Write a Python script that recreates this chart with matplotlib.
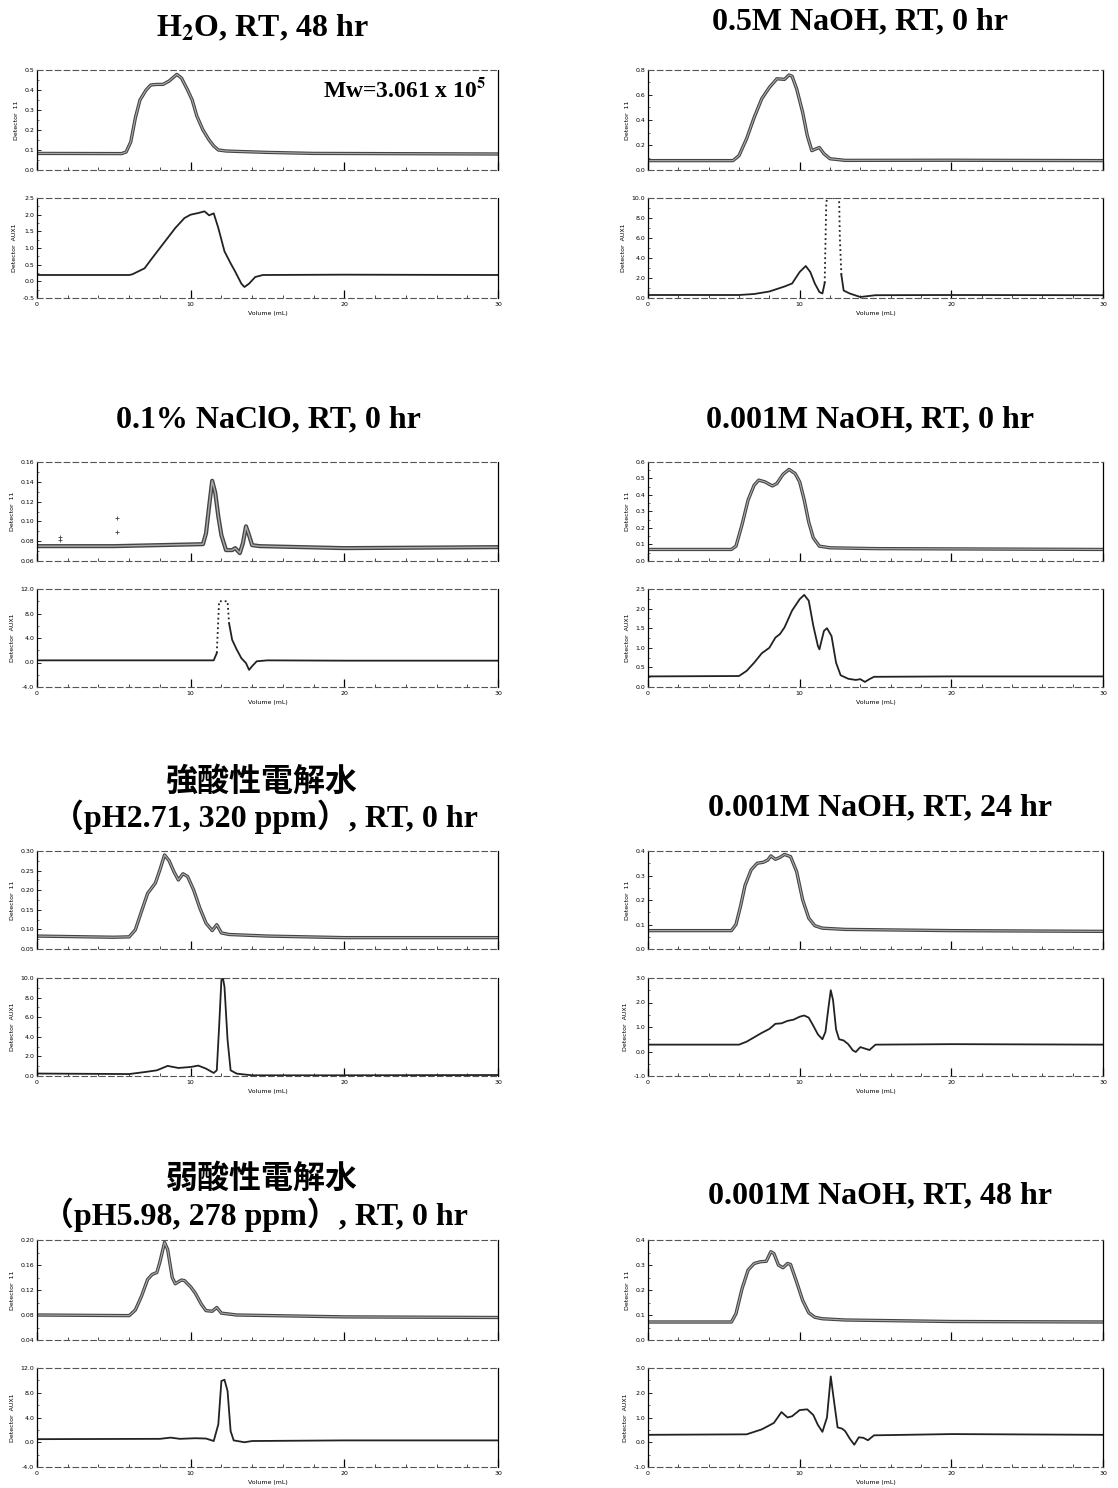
import numpy as np
import matplotlib.pyplot as plt
from matplotlib.ticker import MultipleLocator, FormatStrFormatter

plt.rcParams['mathtext.fontset'] = 'stix'

# ---- data: (volume mL, signal) ----
# H2O, RT, 48 hr
h2o_ri_x = [0, 5.5, 5.8, 6.1, 6.4, 6.7, 7.1, 7.4, 7.8, 8.2, 8.6, 9.1, 9.4, 9.8, 10.1, 10.4, 10.8, 11.2, 11.5, 11.8, 12.3, 13, 15, 18, 22, 26, 30]
h2o_ri_y = [0.083, 0.082, 0.09, 0.14, 0.26, 0.35, 0.40, 0.425, 0.428, 0.428, 0.445, 0.478, 0.46, 0.40, 0.35, 0.27, 0.20, 0.15, 0.12, 0.10, 0.095, 0.093, 0.088, 0.083, 0.082, 0.081, 0.08]
h2o_aux_x = [0, 6.0, 6.2, 6.6, 7.0, 7.5, 8.0, 8.5, 9.0, 9.6, 10.0, 10.5, 10.9, 11.2, 11.5, 11.8, 12.2, 12.6, 12.9, 13.3, 13.5, 13.8, 14.2, 14.7, 20, 30]
h2o_aux_y = [0.19, 0.19, 0.21, 0.3, 0.39, 0.7, 1.0, 1.3, 1.6, 1.9, 2.0, 2.05, 2.1, 1.98, 2.04, 1.6, 0.9, 0.54, 0.29, -0.07, -0.17, -0.07, 0.13, 0.19, 0.2, 0.19]

# 0.5M NaOH, RT, 0 hr
n05_ri_x = [0, 5.6, 6.0, 6.5, 7.0, 7.5, 8.0, 8.5, 9.0, 9.3, 9.5, 9.8, 10.2, 10.5, 10.8, 11.1, 11.3, 11.6, 12.0, 13, 20, 30]
n05_ri_y = [0.075, 0.075, 0.115, 0.25, 0.42, 0.57, 0.66, 0.73, 0.725, 0.76, 0.75, 0.65, 0.46, 0.276, 0.155, 0.17, 0.18, 0.13, 0.09, 0.077, 0.078, 0.075]
n05_aux_x = [0, 6.0, 7.0, 8.0, 9.0, 9.5, 10.0, 10.4, 10.7, 11.0, 11.3, 11.5, 11.65]
n05_aux_y = [0.3, 0.3, 0.4, 0.65, 1.15, 1.45, 2.6, 3.2, 2.6, 1.45, 0.6, 0.45, 1.5]
n05_spike_x = [11.65, 11.75, 11.8, 12.6, 12.65, 12.75]
n05_spike_y = [1.5, 9.3, 10.0, 10.0, 6.0, 2.3]
n05_tail_x = [12.75, 12.9, 13.3, 14.0, 15.0, 20, 30]
n05_tail_y = [2.3, 0.75, 0.45, 0.1, 0.28, 0.3, 0.28]

# 0.1% NaClO, RT, 0 hr
clo_ri_x = [0, 5, 10.8, 11.0, 11.2, 11.4, 11.6, 11.8, 12.0, 12.3, 12.7, 12.9, 13.2, 13.4, 13.6, 13.8, 14.0, 14.5, 20, 30]
clo_ri_y = [0.075, 0.075, 0.077, 0.088, 0.115, 0.141, 0.129, 0.105, 0.086, 0.071, 0.071, 0.073, 0.068, 0.078, 0.095, 0.086, 0.076, 0.075, 0.073, 0.074]
clo_out_x = [1.5, 1.5, 5.2, 5.2]
clo_out_y = [0.084, 0.081, 0.103, 0.089]
clo_aux_x = [0, 11.5, 11.7]
clo_aux_y = [0.35, 0.35, 1.55]
clo_spike_x = [11.7, 11.85, 12.4, 12.5]
clo_spike_y = [1.55, 10.0, 10.0, 6.4]
clo_tail_x = [12.5, 12.7, 13.0, 13.3, 13.6, 13.8, 14.0, 14.3, 15, 20, 30]
clo_tail_y = [6.4, 3.7, 2.1, 0.7, -0.1, -1.2, -0.6, 0.2, 0.35, 0.3, 0.3]

# 0.001M NaOH, RT, 0 hr
n0_ri_x = [0, 5.5, 5.8, 6.2, 6.6, 7.0, 7.3, 7.7, 8.2, 8.5, 8.9, 9.3, 9.7, 10.0, 10.3, 10.6, 10.9, 11.3, 12, 15, 30]
n0_ri_y = [0.07, 0.07, 0.09, 0.22, 0.37, 0.46, 0.49, 0.48, 0.455, 0.47, 0.525, 0.555, 0.53, 0.48, 0.37, 0.235, 0.14, 0.09, 0.08, 0.075, 0.07]
n0_aux_x = [0, 6.0, 6.5, 7.0, 7.5, 8.0, 8.4, 8.7, 9.0, 9.5, 10.0, 10.3, 10.6, 10.9, 11.2, 11.3, 11.6, 11.8, 12.1, 12.4, 12.7, 13.2, 13.7, 14.0, 14.3, 14.6, 14.9, 20, 30]
n0_aux_y = [0.27, 0.28, 0.41, 0.62, 0.86, 1.0, 1.26, 1.35, 1.52, 1.95, 2.24, 2.35, 2.2, 1.56, 1.05, 0.96, 1.43, 1.5, 1.3, 0.62, 0.3, 0.21, 0.18, 0.2, 0.13, 0.2, 0.26, 0.27, 0.27]

# strong acid electrolysed water
sa_ri_x = [0, 5.0, 6.0, 6.4, 6.8, 7.2, 7.7, 8.0, 8.3, 8.6, 8.9, 9.2, 9.5, 9.8, 10.2, 10.6, 11.0, 11.4, 11.7, 12.0, 12.5, 15, 20, 30]
sa_ri_y = [0.083, 0.08, 0.081, 0.099, 0.146, 0.192, 0.218, 0.252, 0.29, 0.275, 0.248, 0.226, 0.242, 0.235, 0.2, 0.154, 0.116, 0.097, 0.112, 0.091, 0.087, 0.083, 0.079, 0.079]
sa_aux_x = [0, 6.0, 7.0, 7.8, 8.5, 9.2, 10.0, 10.5, 11.0, 11.5, 11.7, 11.85, 12.0, 12.1, 12.2, 12.4, 12.6, 13.0, 14.0, 20, 30]
sa_aux_y = [0.25, 0.2, 0.4, 0.58, 1.03, 0.82, 0.92, 1.06, 0.75, 0.31, 0.58, 5.0, 9.8, 10.0, 9.1, 3.7, 0.58, 0.24, 0.07, 0.07, 0.1]

# 0.001M NaOH, RT, 24 hr
n24_ri_x = [0, 5.5, 5.8, 6.1, 6.4, 6.8, 7.2, 7.6, 7.9, 8.1, 8.4, 8.7, 9.0, 9.4, 9.8, 10.2, 10.6, 11.0, 11.5, 13, 20, 30]
n24_ri_y = [0.075, 0.075, 0.1, 0.174, 0.26, 0.323, 0.35, 0.354, 0.363, 0.38, 0.366, 0.374, 0.386, 0.377, 0.316, 0.2, 0.126, 0.095, 0.085, 0.08, 0.075, 0.072]
n24_aux_x = [0, 6.0, 6.5, 7.0, 7.5, 8.0, 8.4, 8.8, 9.2, 9.6, 10.0, 10.3, 10.6, 10.9, 11.2, 11.5, 11.7, 11.9, 12.05, 12.2, 12.4, 12.6, 12.9, 13.2, 13.5, 13.7, 14.0, 14.3, 14.6, 15.0, 20, 30]
n24_aux_y = [0.28, 0.28, 0.4, 0.58, 0.76, 0.92, 1.13, 1.15, 1.25, 1.3, 1.42, 1.47, 1.38, 1.05, 0.7, 0.5, 0.8, 1.8, 2.5, 2.1, 0.9, 0.5, 0.45, 0.3, 0.05, -0.02, 0.18, 0.12, 0.06, 0.28, 0.3, 0.28]

# weak acid electrolysed water
wa_ri_x = [0, 6.0, 6.4, 6.8, 7.2, 7.5, 7.8, 8.0, 8.3, 8.5, 8.8, 9.0, 9.4, 9.6, 10.0, 10.3, 10.7, 11.0, 11.4, 11.7, 12.0, 13, 20, 30]
wa_ri_y = [0.08, 0.079, 0.088, 0.11, 0.137, 0.145, 0.148, 0.165, 0.196, 0.185, 0.14, 0.13, 0.136, 0.135, 0.125, 0.115, 0.097, 0.087, 0.086, 0.092, 0.083, 0.08, 0.077, 0.076]
wa_aux_x = [0, 8.0, 8.7, 9.3, 10.3, 11.0, 11.5, 11.8, 12.0, 12.2, 12.4, 12.6, 12.8, 13.5, 14.0, 20, 30]
wa_aux_y = [0.5, 0.55, 0.75, 0.55, 0.65, 0.6, 0.2, 2.9, 9.9, 10.1, 8.3, 1.8, 0.3, 0.0, 0.2, 0.3, 0.3]

# 0.001M NaOH, RT, 48 hr
n48_ri_x = [0, 5.5, 5.8, 6.2, 6.6, 7.0, 7.4, 7.8, 8.1, 8.3, 8.6, 8.9, 9.2, 9.4, 9.8, 10.2, 10.6, 11.0, 11.5, 13, 20, 30]
n48_ri_y = [0.072, 0.072, 0.105, 0.205, 0.28, 0.306, 0.313, 0.315, 0.353, 0.346, 0.3, 0.289, 0.306, 0.302, 0.232, 0.158, 0.109, 0.091, 0.085, 0.08, 0.074, 0.072]
n48_aux_x = [0, 6.5, 7.5, 8.3, 8.8, 9.2, 9.5, 10.0, 10.5, 10.9, 11.2, 11.5, 11.8, 12.05, 12.3, 12.5, 12.8, 13.0, 13.3, 13.6, 13.9, 14.2, 14.5, 14.9, 20, 30]
n48_aux_y = [0.3, 0.32, 0.52, 0.78, 1.22, 1.0, 1.05, 1.3, 1.33, 1.1, 0.7, 0.42, 1.0, 2.66, 1.5, 0.6, 0.55, 0.45, 0.15, -0.1, 0.2, 0.18, 0.08, 0.28, 0.33, 0.3]

fig = plt.figure(figsize=(11.18, 14.88), dpi=100)
W, H = 1118.0, 1488.0

def make_ax(left, right, top, bottom, ylim, ystep, fmt, ylab, xlabels):
    ax = fig.add_axes([left / W, 1 - bottom / H, (right - left) / W, (bottom - top) / H])
    ax.set_xlim(0, 30)
    ax.set_ylim(*ylim)
    ax.xaxis.set_major_locator(MultipleLocator(10))
    ax.xaxis.set_minor_locator(MultipleLocator(2))
    ax.yaxis.set_major_locator(MultipleLocator(ystep))
    ax.yaxis.set_minor_locator(MultipleLocator(ystep / 2))
    ax.yaxis.set_major_formatter(FormatStrFormatter(fmt))
    ax.tick_params(axis='x', which='major', direction='in', length=6, width=0.9, labelsize=4.5, pad=3)
    ax.tick_params(axis='x', which='minor', direction='in', length=2, width=0.5)
    ax.tick_params(axis='y', which='major', direction='in', length=3, width=0.6, labelsize=4.5, pad=2)
    ax.tick_params(axis='y', which='minor', direction='in', length=1.5, width=0.4)
    if not xlabels:
        ax.set_xticklabels([])
    else:
        ax.set_xlabel('Volume (mL)', fontsize=4.5, labelpad=3)
    for s in ['top', 'bottom']:
        ax.spines[s].set_linestyle((0, (5, 3)))
        ax.spines[s].set_color('#555555')
        ax.spines[s].set_linewidth(0.8)
    for s in ['left', 'right']:
        ax.spines[s].set_color('black')
        ax.spines[s].set_linewidth(0.9)
    ax.set_ylabel(ylab, fontsize=4.5, labelpad=4)
    return ax

def ri(ax, x, y, lw=2.4):
    ax.plot(x, y, color='#444444', lw=lw, solid_joinstyle='round')
    ax.plot(x, y, color='#aaaaaa', lw=lw * 0.35)

def aux(ax, x, y, ls='-'):
    ax.plot(x, y, color='#222222', lw=1.3, ls=ls, solid_joinstyle='round')

L = (37, 498)
R = (648, 1103)
rows = [((70, 170), (198, 298)),
        ((462, 561), (589, 687)),
        ((851, 949), (978, 1076)),
        ((1240, 1340), (1368, 1467))]

# row 1
(t, b) = rows[0]
a = make_ax(L[0], L[1], t[0], t[1], (0, 0.5), 0.1, '%.1f', 'Detector  11', False)
ri(a, h2o_ri_x, h2o_ri_y)
a.text(0.975, 0.8, r'Mw=3.061 x 10$^{\mathbf{5}}$', transform=a.transAxes, ha='right', va='center',
       fontsize=17, fontweight='bold', family='Liberation Serif')
a = make_ax(L[0], L[1], b[0], b[1], (-0.5, 2.5), 0.5, '%.1f', 'Detector  AUX1', True)
aux(a, h2o_aux_x, h2o_aux_y)

a = make_ax(R[0], R[1], t[0], t[1], (0, 0.8), 0.2, '%.1f', 'Detector  11', False)
ri(a, n05_ri_x, n05_ri_y)
a = make_ax(R[0], R[1], b[0], b[1], (0, 10), 2, '%.1f', 'Detector  AUX1', True)
aux(a, n05_aux_x, n05_aux_y)
aux(a, n05_spike_x, n05_spike_y, ls=':')
aux(a, n05_tail_x, n05_tail_y)

# row 2
(t, b) = rows[1]
a = make_ax(L[0], L[1], t[0], t[1], (0.06, 0.16), 0.02, '%.2f', 'Detector  11', False)
ri(a, clo_ri_x, clo_ri_y, lw=3.0)
a.plot(clo_out_x, clo_out_y, '+', color='#444444', ms=2.5, mew=0.6)
a = make_ax(L[0], L[1], b[0], b[1], (-4, 12), 4, '%.1f', 'Detector  AUX1', True)
aux(a, clo_aux_x, clo_aux_y)
aux(a, clo_spike_x, clo_spike_y, ls=':')
aux(a, clo_tail_x, clo_tail_y)

a = make_ax(R[0], R[1], t[0], t[1], (0, 0.6), 0.1, '%.1f', 'Detector  11', False)
ri(a, n0_ri_x, n0_ri_y)
a = make_ax(R[0], R[1], b[0], b[1], (0, 2.5), 0.5, '%.1f', 'Detector  AUX1', True)
aux(a, n0_aux_x, n0_aux_y)

# row 3
(t, b) = rows[2]
a = make_ax(L[0], L[1], t[0], t[1], (0.05, 0.30), 0.05, '%.2f', 'Detector  11', False)
ri(a, sa_ri_x, sa_ri_y)
a = make_ax(L[0], L[1], b[0], b[1], (0, 10), 2, '%.1f', 'Detector  AUX1', True)
aux(a, sa_aux_x, sa_aux_y)

a = make_ax(R[0], R[1], t[0], t[1], (0, 0.4), 0.1, '%.1f', 'Detector  11', False)
ri(a, n24_ri_x, n24_ri_y)
a = make_ax(R[0], R[1], b[0], b[1], (-1, 3), 1, '%.1f', 'Detector  AUX1', True)
aux(a, n24_aux_x, n24_aux_y)

# row 4
(t, b) = rows[3]
a = make_ax(L[0], L[1], t[0], t[1], (0.04, 0.20), 0.04, '%.2f', 'Detector  11', False)
ri(a, wa_ri_x, wa_ri_y)
a = make_ax(L[0], L[1], b[0], b[1], (-4, 12), 4, '%.1f', 'Detector  AUX1', True)
aux(a, wa_aux_x, wa_aux_y)

a = make_ax(R[0], R[1], t[0], t[1], (0, 0.4), 0.1, '%.1f', 'Detector  11', False)
ri(a, n48_ri_x, n48_ri_y)
a = make_ax(R[0], R[1], b[0], b[1], (-1, 3), 1, '%.1f', 'Detector  AUX1', True)
aux(a, n48_aux_x, n48_aux_y)

# titles
fam = ['Liberation Serif', 'Noto Sans CJK JP']
titles = [
    (262, 28, r'H$_{\mathbf{2}}$O, RT, 48 hr'),
    (860, 22, '0.5M NaOH, RT, 0 hr'),
    (268, 420, '0.1% NaClO, RT, 0 hr'),
    (870, 420, '0.001M NaOH, RT, 0 hr'),
    (262, 782, '強酸性電解水'),
    (265, 817, '（pH2.71, 320 ppm）, RT, 0 hr'),
    (880, 808, '0.001M NaOH, RT, 24 hr'),
    (262, 1180, '弱酸性電解水'),
    (255, 1215, '（pH5.98, 278 ppm）, RT, 0 hr'),
    (880, 1196, '0.001M NaOH, RT, 48 hr'),
]
for x, y, s in titles:
    fig.text(x / W, 1 - y / H, s, ha='center', va='center', fontsize=23,
             fontweight='bold', family=fam)

fig.savefig('out.png', dpi=100)
